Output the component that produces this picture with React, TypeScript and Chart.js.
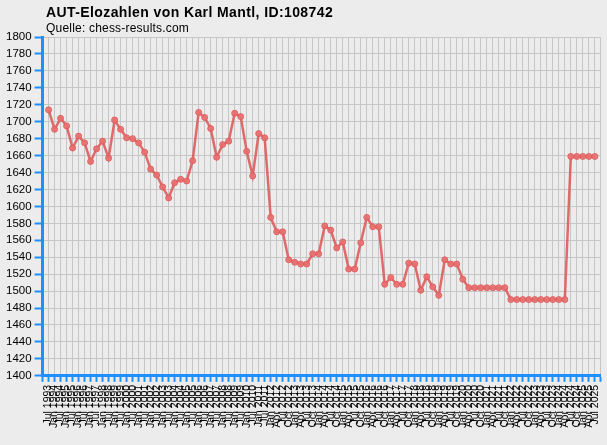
import React, { useEffect, useRef } from 'react';
import { Chart, registerables } from 'chart.js';

Chart.register(...registerables);

const TITLE = 'AUT-Elozahlen von Karl Mantl, ID:108742';
const SUBTITLE = 'Quelle: chess-results.com';

const periods: string[] = [
  'Jul 1993', 'Jan 1994', 'Jul 1994', 'Jan 1995', 'Jul 1995', 'Jan 1996', 'Jul 1996', 'Jan 1997',
  'Jul 1997', 'Jan 1998', 'Jul 1998', 'Jan 1999', 'Jul 1999', 'Jan 2000', 'Jul 2000', 'Jan 2001',
  'Jul 2001', 'Jan 2002', 'Jul 2002', 'Jan 2003', 'Jul 2003', 'Jan 2004', 'Jul 2004', 'Jan 2005',
  'Jul 2005', 'Jan 2006', 'Jul 2006', 'Jan 2007', 'Jul 2007', 'Jan 2008', 'Jul 2008', 'Jan 2009',
  'Jul 2009', 'Jan 2010', 'Jul 2010', 'Jan 2011', 'Jul 2011',
  'Jan 2012', 'Apr 2012', 'Jul 2012', 'Oct 2012', 'Jan 2013', 'Apr 2013', 'Jul 2013', 'Oct 2013',
  'Jan 2014', 'Apr 2014', 'Jul 2014', 'Oct 2014', 'Jan 2015', 'Apr 2015', 'Jul 2015', 'Oct 2015',
  'Jan 2016', 'Apr 2016', 'Jul 2016', 'Oct 2016', 'Jan 2017', 'Apr 2017', 'Jul 2017', 'Oct 2017',
  'Jan 2018', 'Apr 2018', 'Jul 2018', 'Oct 2018', 'Jan 2019', 'Apr 2019', 'Jul 2019', 'Oct 2019',
  'Jan 2020', 'Apr 2020', 'Jul 2020', 'Oct 2020', 'Jan 2021', 'Apr 2021', 'Jul 2021', 'Oct 2021',
  'Jan 2022', 'Apr 2022', 'Jul 2022', 'Oct 2022', 'Jan 2023', 'Apr 2023', 'Jul 2023', 'Oct 2023',
  'Jan 2024', 'Apr 2024', 'Jul 2024', 'Oct 2024', 'Jan 2025', 'Apr 2025', 'Jul 2025',
];

const elo: number[] = [
  1714, 1691, 1704, 1695, 1669, 1683, 1675, 1653, 1668, 1677,
  1657, 1702, 1691, 1681, 1680, 1675, 1664, 1644, 1637, 1623,
  1610, 1628, 1632, 1630, 1654, 1711, 1705, 1692, 1658, 1673,
  1677, 1710, 1706, 1665, 1636, 1686, 1681, 1587, 1570, 1570,
  1537, 1534, 1532, 1532, 1544, 1544, 1577, 1572, 1551, 1558,
  1526, 1526, 1557, 1587, 1576, 1576, 1508, 1516, 1508, 1508,
  1533, 1532, 1501, 1517, 1505, 1495, 1537, 1532, 1532, 1514,
  1504, 1504, 1504, 1504, 1504, 1504, 1504,
  1490, 1490, 1490, 1490, 1490, 1490, 1490, 1490, 1490, 1490,
  1659, 1659, 1659, 1659, 1659,
];

const Y_MIN = 1400;
const Y_MAX = 1800;
const Y_STEP = 20;

const AXIS_BLUE = '#1e8fff';
const GRID_GRAY = '#c6c6c6';
const BG = '#ececec';

export default function App() {
  const ref = useRef<HTMLCanvasElement>(null);

  useEffect(() => {
    document.body.style.margin = '0';
    const canvas = ref.current;
    if (!canvas) return;

    const bgPlugin = {
      id: 'bgFill',
      beforeDraw(c: any) {
        const ctx = c.ctx;
        ctx.save();
        ctx.fillStyle = BG;
        ctx.fillRect(0, 0, c.width, c.height);
        ctx.restore();
      },
    };

    const titlePlugin = {
      id: 'titleText',
      afterDraw(c: any) {
        const ctx = c.ctx;
        ctx.save();
        ctx.fillStyle = '#000';
        ctx.textAlign = 'left';
        ctx.textBaseline = 'alphabetic';
        ctx.font = 'bold 14px "Liberation Sans", Arial, sans-serif';
        (ctx as any).letterSpacing = '0.4px';
        ctx.fillText(TITLE, 46, 17);
        ctx.font = '12px "Liberation Sans", Arial, sans-serif';
        (ctx as any).letterSpacing = '0.2px';
        ctx.fillText(SUBTITLE, 46, 32);
        ctx.restore();
      },
    };

    const labels = ['', ...periods, ''];
    const data: (number | null)[] = [null, ...elo, null];

    const chart = new Chart(canvas, {
      type: 'line',
      data: {
        labels,
        datasets: [
          {
            data,
            borderColor: 'rgba(222, 92, 92, 0.9)',
            borderWidth: 2.5,
            pointRadius: 3,
            pointBackgroundColor: 'rgba(232, 112, 112, 0.9)',
            pointBorderColor: 'rgba(222, 92, 92, 0.9)',
            pointBorderWidth: 1,
            tension: 0,
            spanGaps: false,
          },
        ],
      },
      options: {
        responsive: false,
        animation: false,
        devicePixelRatio: 1,
        layout: { padding: { left: 3, right: 0, top: 37, bottom: 14 } },
        plugins: {
          legend: { display: false },
          tooltip: { enabled: false },
          title: { display: false },
        },
        scales: {
          x: {
            type: 'category',
            offset: false,
            grid: {
              color: GRID_GRAY,
              lineWidth: 1,
              tickColor: AXIS_BLUE,
              tickLength: 6,
              tickWidth: 2,
            },
            border: { color: AXIS_BLUE, width: 3 },
            ticks: {
              autoSkip: false,
              minRotation: 90,
              maxRotation: 90,
              padding: 3,
              color: '#000',
              font: { family: '"Liberation Sans", Arial, sans-serif', size: 10.5, lineHeight: 0.3 },
            },
          },
          y: {
            min: Y_MIN,
            max: Y_MAX,
            grid: {
              color: GRID_GRAY,
              lineWidth: 1,
              tickColor: AXIS_BLUE,
              tickLength: 8,
              tickWidth: 2,
            },
            border: { color: AXIS_BLUE, width: 3 },
            ticks: {
              stepSize: Y_STEP,
              padding: 3,
              color: '#000',
              font: { family: '"Liberation Sans", Arial, sans-serif', size: 11.5 },
              callback: (v: any) => String(v),
            },
          },
        },
      },
      plugins: [bgPlugin, titlePlugin],
    });

    return () => chart.destroy();
  }, []);

  return <canvas ref={ref} width={607} height={445} style={{ display: 'block' }} />;
}
